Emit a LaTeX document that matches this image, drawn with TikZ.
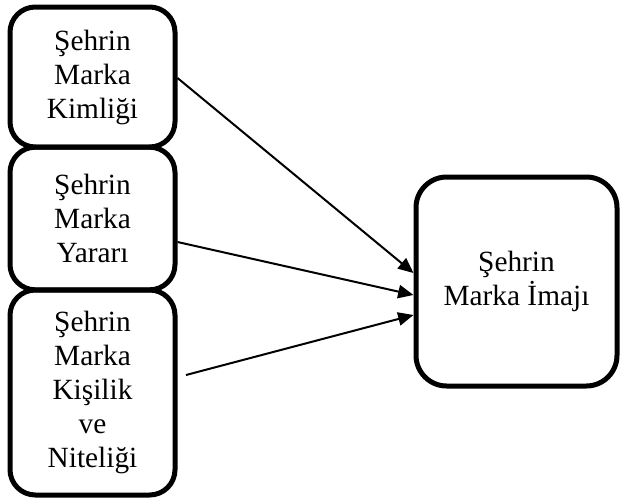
\documentclass[tikz,border=0pt]{standalone}
\usepackage{fontspec}
\setmainfont{Liberation Serif}
\usetikzlibrary{arrows.meta}
\begin{document}
\begin{tikzpicture}[x=0.75pt,y=-0.75pt,
  box/.style={draw=black,line width=3.75pt,rectangle,rounded corners=19pt,
    align=center,inner sep=0pt,font=\fontsize{22}{25.5}\selectfont},
  conn/.style={line width=1.5pt,-{Triangle[length=11.5pt,width=10pt]}}]
\useasboundingbox (0,0) rectangle (622,500);
\node[box,minimum width=123.75pt,minimum height=105pt] (b1) at (92.5,77) {Şehrin\\Marka\\Kimliği};
\node[box,minimum width=123.75pt,minimum height=107pt] (b2) at (92.5,218.5) {Şehrin\\Marka\\Yararı};
\node[box,minimum width=123.75pt,minimum height=153.75pt] (b3) at (92.5,392.5) {Şehrin\\Marka\\Kişilik\\ve\\Niteliği};
\node[box,rounded corners=23pt,minimum width=150.75pt,minimum height=156.75pt] (r) at (516.5,281.5) {Şehrin\\Marka İmajı};
\coordinate (s3) at (186,375);
\draw[conn] (b1.east |- 0,78) -- (r.west |- 0,273);
\draw[conn] (b2.east |- 0,242) -- (r.west |- 0,295);
\draw[conn] (s3) -- (r.west |- 0,315);
\end{tikzpicture}
\end{document}
